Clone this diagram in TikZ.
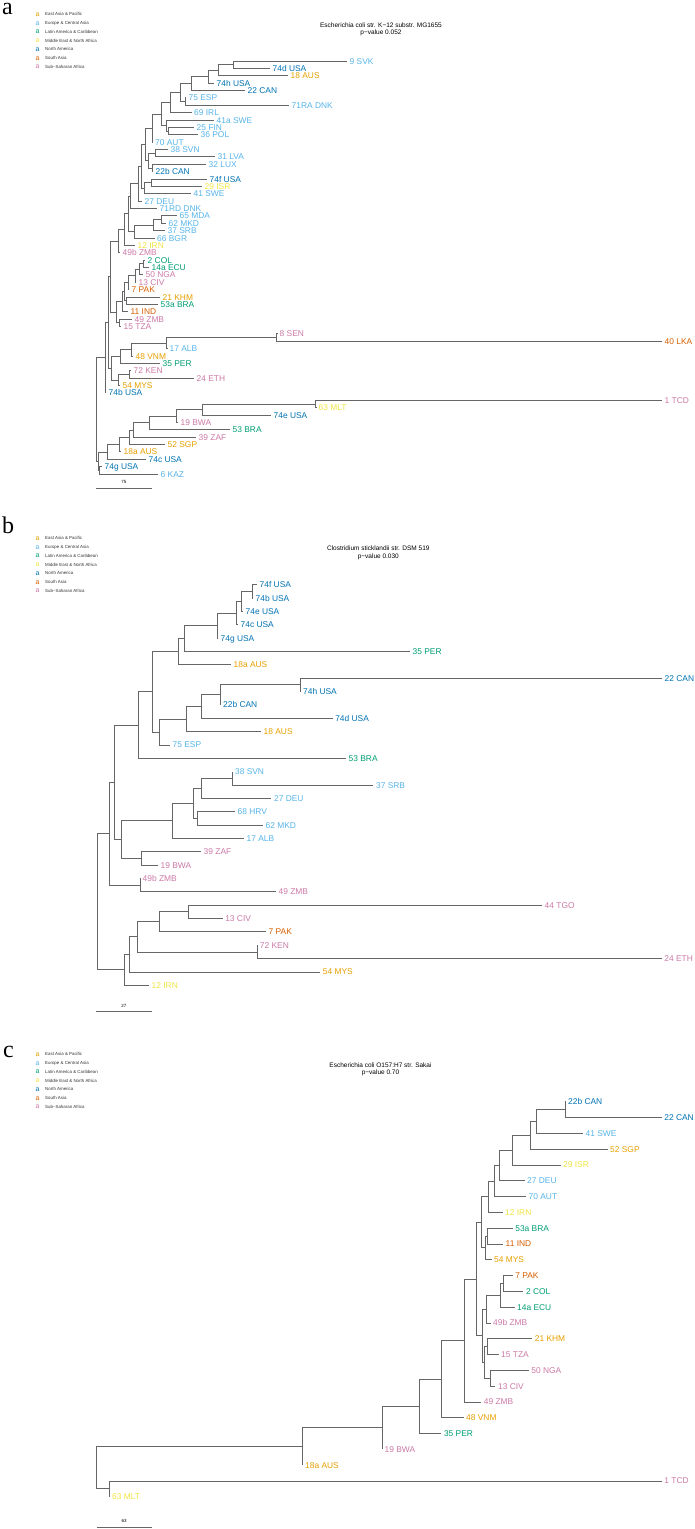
\documentclass[tikz,border=0pt]{standalone}
\usepackage{fontspec}
\setmainfont{Liberation Sans}
\newfontfamily\serifletter{Liberation Serif}
\usetikzlibrary{calc}
\definecolor{cEA}{HTML}{E69F00}
\definecolor{cEU}{HTML}{56B4E9}
\definecolor{cLA}{HTML}{009E73}
\definecolor{cME}{HTML}{F0E442}
\definecolor{cNA}{HTML}{0072B2}
\definecolor{cSA}{HTML}{D55E00}
\definecolor{cSS}{HTML}{CC79A7}
\definecolor{brc}{HTML}{666666}
\tikzset{
  branch/.style={draw=brc, line width=0.8pt},
  lab/.style={anchor=base west, inner sep=0pt, font=\fontsize{8.4}{10}\selectfont, xshift=2.5pt, yshift=-3pt},
  legm/.style={anchor=base west, inner sep=0pt, font=\fontsize{7}{8}\selectfont},
  legt/.style={anchor=base west, inner sep=0pt, font=\fontsize{4.4}{5}\selectfont, text=black!80},
  ttl/.style={inner sep=0pt, align=center, font=\fontsize{6.5}{7.3}\selectfont},
  scl/.style={inner sep=0pt, font=\fontsize{4.5}{5}\selectfont, yshift=6pt},
  letter/.style={anchor=base west, inner sep=0pt, text depth=0pt, font=\serifletter\fontsize{24}{24}\selectfont}
}
\newcommand\Lf[5]{%
  \coordinate (#1) at (#2,{\yb+(#3-1)*\ys});
  \node[lab,text=#4] (#1-l) at (#1) {#5};}
\newcommand\In[4]{%
  \path let \p1=($(#3)!0.5!(#4)$) in (#2pt,\y1) coordinate (#1);
  \draw[branch] (#1) |- (#3);
  \draw[branch] (#1) |- (#4);}
\newcommand\Legend[2]{%
  \foreach \cc/\tt [count=\i from 0] in {cEA/East Asia \& Pacific, cEU/Europe \& Central Asia, cLA/Latin America \& Caribbean, cME/Middle East \& North Africa, cNA/North America, cSA/South Asia, cSS/Sub−Saharan Africa}{
    \node[legm,text=\cc] (#1m\i) at (35.5,{#2+\i*8.7+2.2}) {a};
    \node[legt] (#1t\i) at (45,{#2+\i*8.7+1.6}) {\tt};
  }}
\begin{document}
\begin{tikzpicture}[x=1pt,y=-1pt]
\useasboundingbox (0,0) rectangle (695,1529);

% ================= panel a =================
\node[letter, text height=11pt] (la) at (2,14.5) {a};
\Legend{la}{14.3}
\node[ttl] (ta) at (381,29.4) {Escherichia coli str. K−12 substr. MG1655\\p−value 0.052};
\def\yb{61}\def\ys{7.375}
\Lf{a1}{347}{1}{cEU}{9 SVK}
\Lf{a2}{270}{2}{cNA}{74d USA}
\Lf{a3}{288}{3}{cEA}{18 AUS}
\Lf{a4}{214}{4}{cNA}{74h USA}
\Lf{a5}{245}{5}{cNA}{22 CAN}
\Lf{a6}{186}{6}{cEU}{75 ESP}
\Lf{a7}{289}{7}{cEU}{71RA DNK}
\Lf{a8}{191.5}{8}{cEU}{69 IRL}
\Lf{a9}{214}{9}{cEU}{41a SWE}
\Lf{a10}{194}{10}{cEU}{25 FIN}
\Lf{a11}{198}{11}{cEU}{36 POL}
\Lf{a12}{152.5}{12}{cEU}{70 AUT}
\Lf{a13}{168}{13}{cEU}{38 SVN}
\Lf{a14}{215}{14}{cEU}{31 LVA}
\Lf{a15}{206}{15}{cEU}{32 LUX}
\Lf{a16}{153}{16}{cNA}{22b CAN}
\Lf{a17}{207}{17}{cNA}{74f USA}
\Lf{a18}{202}{18}{cME}{29 ISR}
\Lf{a19}{191}{19}{cEU}{41 SWE}
\Lf{a20}{142}{20}{cEU}{27 DEU}
\Lf{a21}{157}{21}{cEU}{71RD DNK}
\Lf{a22}{177}{22}{cEU}{65 MDA}
\Lf{a23}{166}{23}{cEU}{62 MKD}
\Lf{a24}{165}{24}{cEU}{37 SRB}
\Lf{a25}{154.5}{25}{cEU}{66 BGR}
\Lf{a26}{135}{26}{cME}{12 IRN}
\Lf{a27}{120}{27}{cSS}{49b ZMB}
\Lf{a28}{145}{28}{cLA}{2 COL}
\Lf{a29}{149}{29}{cLA}{14a ECU}
\Lf{a30}{143}{30}{cSS}{50 NGA}
\Lf{a31}{136}{31}{cSS}{13 CIV}
\Lf{a32}{129}{32}{cSA}{7 PAK}
\Lf{a33}{160}{33}{cEA}{21 KHM}
\Lf{a34}{158}{34}{cLA}{53a BRA}
\Lf{a35}{128}{35}{cSA}{11 IND}
\Lf{a36}{132}{36}{cSS}{49 ZMB}
\Lf{a37}{121}{37}{cSS}{15 TZA}
\Lf{a38}{277}{38}{cSS}{8 SEN}
\Lf{a39}{662}{39}{cSA}{40 LKA}
\Lf{a40}{167}{40}{cEU}{17 ALB}
\Lf{a41}{133}{41}{cEA}{48 VNM}
\Lf{a42}{160}{42}{cLA}{35 PER}
\Lf{a43}{131}{43}{cSS}{72 KEN}
\Lf{a44}{194}{44}{cSS}{24 ETH}
\Lf{a45}{120}{45}{cEA}{54 MYS}
\Lf{a46}{106}{46}{cNA}{74b USA}
\Lf{a47}{662}{47}{cSS}{1 TCD}
\Lf{a48}{316}{48}{cME}{63 MLT}
\Lf{a49}{271}{49}{cNA}{74e USA}
\Lf{a50}{178}{50}{cSS}{19 BWA}
\Lf{a51}{230}{51}{cLA}{53 BRA}
\Lf{a52}{196}{52}{cSS}{39 ZAF}
\Lf{a53}{165}{53}{cEA}{52 SGP}
\Lf{a54}{121}{54}{cEA}{18a AUS}
\Lf{a55}{146}{55}{cNA}{74c USA}
\Lf{a56}{102}{56}{cNA}{74g USA}
\Lf{a57}{158}{57}{cEU}{6 KAZ}
\In{aA1}{233}{a1}{a2}
\In{aX}{218}{aA1}{a3}
\In{aC}{208.3}{aX}{a4}
\In{aD}{191.7}{aC}{a5}
\In{aF}{185}{a6}{a7}
\In{aE}{180}{aD}{aF}
\In{aG}{170}{aE}{a8}
\In{aI}{168}{a10}{a11}
\In{aH}{166.5}{a9}{aI}
\In{aJ}{161.7}{aG}{aH}
\In{aK}{152}{aJ}{a12}
\In{aL}{155}{a13}{a14}
\In{aN}{152.3}{a15}{a16}
\In{aM}{148}{aL}{aN}
\In{aS}{145}{aK}{aM}
\In{aP}{151.7}{a17}{a18}
\In{aO}{144.3}{aP}{a19}
\In{aR}{141.7}{aS}{aO}
\In{aT}{138.3}{aR}{a20}
\In{aY}{130}{aT}{a21}
\In{aU}{161.7}{a22}{a23}
\In{aV}{153.3}{aU}{a24}
\In{aW}{134.3}{aV}{a25}
\In{aZ}{128.3}{aY}{aW}
\In{aAA}{124.3}{aZ}{a26}
\In{aAB}{118}{aAA}{a27}
\In{aAC}{143}{a28}{a29}
\In{aAD}{139}{aAC}{a30}
\In{aAE}{135}{aAD}{a31}
\In{aAF}{128}{aAE}{a32}
\In{aAH}{126}{a33}{a34}
\In{aAG}{124}{aAF}{aAH}
\In{aAI}{122}{aAG}{a35}
\In{aAJ}{119}{a36}{a37}
\In{aAK}{116}{aAI}{aAJ}
\In{aAL}{110}{aAB}{aAK}
\In{aSN}{276.7}{a38}{a39}
\In{aM2}{166.7}{aSN}{a40}
\In{aN2}{131.7}{aM2}{a41}
\In{aO2}{120}{aN2}{a42}
\In{aP2}{129}{a43}{a44}
\In{aQ2}{118}{aP2}{a45}
\In{aR2}{111}{aO2}{aQ2}
\In{aAM}{108}{aAL}{aR2}
\In{aAN}{105}{aAM}{a46}
\In{aML}{315.5}{a47}{a48}
\In{aBB}{202.7}{aML}{a49}
\In{aBC}{176.7}{aBB}{a50}
\In{aBD}{149}{aBC}{a51}
\In{aBE}{133.3}{aBD}{a52}
\In{aBF}{129}{aBE}{a53}
\In{aBG}{119.3}{aBF}{a54}
\In{aBH}{107.7}{aBG}{a55}
\In{aBK}{99.3}{a56}{a57}
\In{aBL}{98}{aBH}{aBK}
\In{aRt}{96.5}{aAN}{aBL}
\coordinate (sa1) at (96,488.3);
\coordinate (sa2) at (151.7,488.3);
\draw[branch] (sa1) -- (sa2);
\node[scl] (sal) at ($(sa1)!0.5!(sa2)$) {75};

% ================= panel b =================
\node[letter] (lb) at (2,533) {b};
\Legend{lb}{538.3}
\node[ttl] (tb) at (378.3,552.8) {Clostridium sticklandii str. DSM 519\\p−value 0.030};
\def\yb{584.7}\def\ys{13.353}
\Lf{b1}{257}{1}{cNA}{74f USA}
\Lf{b2}{253}{2}{cNA}{74b USA}
\Lf{b3}{243}{3}{cNA}{74e USA}
\Lf{b4}{238}{4}{cNA}{74c USA}
\Lf{b5}{218}{5}{cNA}{74g USA}
\Lf{b6}{410}{6}{cLA}{35 PER}
\Lf{b7}{231}{7}{cEA}{18a AUS}
\Lf{b8}{662}{8}{cNA}{22 CAN}
\Lf{b9}{300.5}{9}{cNA}{74h USA}
\Lf{b10}{220.5}{10}{cNA}{22b CAN}
\Lf{b11}{332.6}{11}{cNA}{74d USA}
\Lf{b12}{261}{12}{cEA}{18 AUS}
\Lf{b13}{170}{13}{cEU}{75 ESP}
\Lf{b14}{346}{14}{cLA}{53 BRA}
\Lf{b15}{232.4}{15}{cEU}{38 SVN}
\Lf{b16}{373.4}{16}{cEU}{37 SRB}
\Lf{b17}{271.4}{17}{cEU}{27 DEU}
\Lf{b18}{235}{18}{cEU}{68 HRV}
\Lf{b19}{263}{19}{cEU}{62 MKD}
\Lf{b20}{244}{20}{cEU}{17 ALB}
\Lf{b21}{201}{21}{cSS}{39 ZAF}
\Lf{b22}{158}{22}{cSS}{19 BWA}
\Lf{b23}{140}{23}{cSS}{49b ZMB}
\Lf{b24}{275.9}{24}{cSS}{49 ZMB}
\Lf{b25}{542}{25}{cSS}{44 TGO}
\Lf{b26}{222.6}{26}{cSS}{13 CIV}
\Lf{b27}{266}{27}{cSA}{7 PAK}
\Lf{b28}{257.2}{28}{cSS}{72 KEN}
\Lf{b29}{661.7}{29}{cSS}{24 ETH}
\Lf{b30}{320.2}{30}{cEA}{54 MYS}
\Lf{b31}{149}{31}{cME}{12 IRN}
\In{bN1}{251.9}{b1}{b2}
\In{bN2}{241.7}{bN1}{b3}
\In{bN3}{236.4}{bN2}{b4}
\In{bN4}{217.3}{bN3}{b5}
\In{bN5}{184.1}{bN4}{b6}
\In{bN6}{178.3}{bN5}{b7}
\In{bN7}{300.3}{b8}{b9}
\In{bN8}{220.4}{bN7}{b10}
\In{bN9}{201.8}{bN8}{b11}
\In{bN10}{186.3}{bN9}{b12}
\In{bN11}{159.7}{bN10}{b13}
\In{bN12}{152.1}{bN6}{bN11}
\In{bN13}{138.4}{bN12}{b14}
\In{bM1}{232.4}{b15}{b16}
\In{bM2}{201}{bM1}{b17}
\In{bM3}{197.4}{b18}{b19}
\In{bM4}{193.4}{bM2}{bM3}
\In{bM5}{172}{bM4}{b20}
\In{bM6}{141.5}{b21}{b22}
\In{bM7}{121.6}{bM5}{bM6}
\In{bM8}{114}{bN13}{bM7}
\In{bM9}{140}{b23}{b24}
\In{bM10}{109.5}{bM8}{bM9}
\In{bM11}{188.7}{b25}{b26}
\In{bM12}{159.7}{bM11}{b27}
\In{bM13}{257.2}{b28}{b29}
\In{bM14}{137}{bM12}{bM13}
\In{bM15}{129.4}{bM14}{b30}
\In{bM16}{124.5}{bM15}{b31}
\In{bRt}{97.6}{bM10}{bM16}
\coordinate (sb1) at (96.2,1011.7);
\coordinate (sb2) at (151.7,1011.7);
\draw[branch] (sb1) -- (sb2);
\node[scl] (sbl) at ($(sb1)!0.5!(sb2)$) {27};

% ================= panel c =================
\node[letter] (lc) at (3,1057) {c};
\Legend{lc}{1054.3}
\node[ttl] (tc) at (380.5,1069.4) {Escherichia coli O157:H7 str. Sakai\\p−value 0.70};
\def\yb{1101.7}\def\ys{15.8}
\Lf{c1}{565.5}{1}{cNA}{22b CAN}
\Lf{c2}{661.7}{2}{cNA}{22 CAN}
\Lf{c3}{583}{3}{cEU}{41 SWE}
\Lf{c4}{607.5}{4}{cEA}{52 SGP}
\Lf{c5}{560.5}{5}{cME}{29 ISR}
\Lf{c6}{524.5}{6}{cEU}{27 DEU}
\Lf{c7}{526}{7}{cEU}{70 AUT}
\Lf{c8}{502.5}{8}{cME}{12 IRN}
\Lf{c9}{512.7}{9}{cLA}{53a BRA}
\Lf{c10}{503}{10}{cSA}{11 IND}
\Lf{c11}{491.5}{11}{cEA}{54 MYS}
\Lf{c12}{512.7}{12}{cSA}{7 PAK}
\Lf{c13}{523.3}{13}{cLA}{2 COL}
\Lf{c14}{514.5}{14}{cLA}{14a ECU}
\Lf{c15}{490.5}{15}{cSS}{49b ZMB}
\Lf{c16}{532.2}{16}{cEA}{21 KHM}
\Lf{c17}{498.5}{17}{cSS}{15 TZA}
\Lf{c18}{528.7}{18}{cSS}{50 NGA}
\Lf{c19}{495.4}{19}{cSS}{13 CIV}
\Lf{c20}{481.2}{20}{cSS}{49 ZMB}
\Lf{c21}{463.5}{21}{cEA}{48 VNM}
\Lf{c22}{441.3}{22}{cLA}{35 PER}
\Lf{c23}{381.9}{23}{cSS}{19 BWA}
\Lf{c24}{302.5}{24}{cEA}{18a AUS}
\Lf{c25}{661.7}{25}{cSS}{1 TCD}
\Lf{c26}{109.5}{26}{cME}{63 MLT}
\In{cN1}{565}{c1}{c2}
\In{cN2}{536}{cN1}{c3}
\In{cN3}{530.7}{cN2}{c4}
\In{cN4}{512.7}{cN3}{c5}
\In{cN5}{499.3}{cN4}{c6}
\In{cN6}{494.3}{cN5}{c7}
\In{cN7}{488.3}{cN6}{c8}
\In{cN8}{487.3}{c9}{c10}
\In{cN9}{485}{cN8}{c11}
\In{cN7b}{481}{cN7}{cN9}
\In{cN10}{503.4}{c12}{c13}
\In{cN11}{500.3}{cN10}{c14}
\In{cN12}{486}{cN11}{c15}
\In{cN13}{487.8}{c16}{c17}
\In{cN14}{490.5}{c18}{c19}
\In{cN15}{484.5}{cN13}{cN14}
\In{cN16}{482.3}{cN12}{cN15}
\In{cN17}{476.7}{cN7b}{cN16}
\In{cN18}{464.5}{cN17}{c20}
\In{cN19}{441}{cN18}{c21}
\In{cN20}{419.6}{cN19}{c22}
\In{cN21}{381.9}{cN20}{c23}
\In{cN22}{302.5}{cN21}{c24}
\In{cN23}{109.5}{c25}{c26}
\In{cRt}{96.7}{cN22}{cN23}
\coordinate (sc1) at (96.7,1527.3);
\coordinate (sc2) at (151.7,1527.3);
\draw[branch] (sc1) -- (sc2);
\node[scl] (scl) at ($(sc1)!0.5!(sc2)$) {63};
\end{tikzpicture}
\end{document}
